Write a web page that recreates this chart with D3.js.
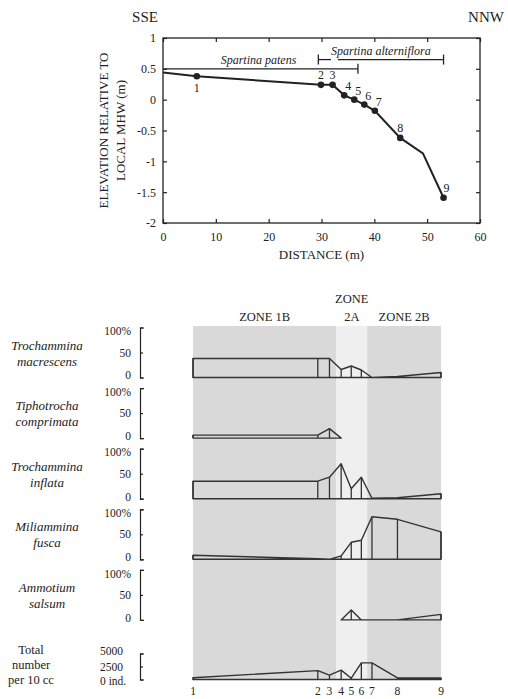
<!DOCTYPE html>
<html lang="en">
<head>
    <meta charset="UTF-8">
    <title>Marsh transect and foraminifera</title>
    <script src="https://d3js.org/d3.v7.min.js"></script>
    <style>
        body { margin: 0; background: #fff; }
        text { font-family: "Liberation Serif", "Times New Roman", serif; fill: #222; }
    </style>
</head>
<body>
    <svg id="chart" width="508" height="699"></svg>
    <script>
        // ---- data ----
        // elevation profile (line goes through the start point and a kink between 8 and 9)
        const profileDist = [0, 6.4, 29.9, 32.1, 34.3, 36.2, 38.1, 40.1, 44.9, 49.2, 53.1];
        const profileElev = [0.44, 0.38, 0.24, 0.24, 0.07, 0.0, -0.08, -0.18, -0.62, -0.87, -1.59];

        // sampling stations
        const sampleIds = [1, 2, 3, 4, 5, 6, 7, 8, 9];
        const sampleDist = [6.4, 29.9, 32.1, 34.3, 36.2, 38.1, 40.1, 44.9, 53.1];
        const sampleElev = [0.38, 0.24, 0.24, 0.07, 0.0, -0.08, -0.18, -0.62, -1.59];

        const xTicks = [0, 10, 20, 30, 40, 50, 60];
        const yTicks = [1, 0.5, 0, -0.5, -1, -1.5, -2];

        // vegetation ranges (distance, m) and the elevation they are drawn at
        const vegNames = ["Spartina patens", "Spartina alterniflora"];
        const vegLevel = [0.5, 0.65];
        const vegSegments = [
            [[0, 36.9]],
            [[29.4, 31.8], [33.1, 53.1]]
        ];

        // zones along the transect (distance, m)
        const zoneNames = ["ZONE 1B", "ZONE 2A", "ZONE 2B"];
        const zoneEdges = [6.4, 33.4, 39.2, 53.1];

        // species abundance (%) at stations 1..9, null = not drawn
        const speciesNames = [
            ["Trochammina", "macrescens"],
            ["Tiphotrocha", "comprimata"],
            ["Trochammina", "inflata"],
            ["Miliammina", "fusca"],
            ["Ammotium", "salsum"]
        ];
        const macrescens = [38, 38, 38, 16, 23, 15, 0, 2, 10];
        const comprimata = [6, 6, 19, 0, null, null, null, null, null];
        const inflata = [35, 35, 43, 70, 20, 43, 1, 2, 10];
        const fusca = [8, 1, 0, 7, 34, 38, 85, 80, 55];
        const salsum = [null, null, null, 0, 20, 0, 0, 0, 11];
        const speciesValues = [macrescens, comprimata, inflata, fusca, salsum];

        // total number per 10 cc
        const totalCount = [350, 1700, 850, 1800, 250, 3200, 3200, 300, 300];
        const totalTicks = [0, 2500, 5000];
        const pctTicks = [0, 50, 100];

        const svg = d3.select("#chart");
        const ink = "#222";

        // ---------------- top: elevation profile ----------------
        const x = d3.scaleLinear().domain([0, 60]).range([163, 480]);
        const y = d3.scaleLinear().domain([-2, 1]).range([223, 38]);

        svg.append("rect")
            .attr("x", x(0)).attr("y", y(1))
            .attr("width", x(60) - x(0)).attr("height", y(-2) - y(1))
            .attr("fill", "none").attr("stroke", ink).attr("stroke-width", 1.3);

        function styleAxis(g) {
            g.select(".domain").remove();
            g.selectAll("line").attr("stroke", ink).attr("stroke-width", 1.2);
            g.selectAll("text").style("font-size", "12px").style("fill", ink);
            g.attr("font-family", null);
        }

        svg.append("g").attr("transform", `translate(${x(0)},0)`)
            .call(d3.axisLeft(y).tickValues(yTicks).tickSize(-4).tickPadding(7).tickFormat(d => String(d)))
            .call(styleAxis);
        svg.append("g").attr("transform", `translate(0,${y(-2)})`)
            .call(d3.axisBottom(x).tickValues(xTicks).tickSize(-4).tickPadding(9).tickFormat(d => String(d)))
            .call(styleAxis);
        svg.append("g").attr("transform", `translate(0,${y(1)})`)
            .call(d3.axisTop(x).tickValues(xTicks).tickSize(-4).tickFormat(""))
            .call(styleAxis);
        svg.append("g").attr("transform", `translate(${x(60)},0)`)
            .call(d3.axisRight(y).tickValues(yTicks).tickSize(-4).tickFormat(""))
            .call(styleAxis);

        // vegetation bars
        vegNames.forEach((name, i) => {
            const segs = vegSegments[i];
            const yy = y(vegLevel[i]);
            segs.forEach(s => {
                svg.append("line")
                    .attr("x1", x(s[0])).attr("x2", x(s[1]))
                    .attr("y1", yy).attr("y2", yy)
                    .attr("stroke", ink).attr("stroke-width", 1.3);
            });
            const lo = segs[0][0], hi = segs[segs.length - 1][1];
            [lo, hi].forEach(v => {
                if (v === 0) return;
                svg.append("line")
                    .attr("x1", x(v)).attr("x2", x(v))
                    .attr("y1", yy - 5).attr("y2", yy + 5)
                    .attr("stroke", ink).attr("stroke-width", 1.3);
            });
            const mid = (x(lo) + x(hi)) / 2 + (i === 0 ? -2 : 0);
            svg.append("text")
                .attr("x", mid).attr("y", yy - 5)
                .attr("text-anchor", "middle")
                .style("font-size", "12px").style("font-style", "italic")
                .text(name);
        });

        // profile line and stations
        const profile = profileDist.map((d, i) => [d, profileElev[i]]);
        svg.append("path")
            .datum(profile)
            .attr("d", d3.line().x(d => x(d[0])).y(d => y(d[1])))
            .attr("fill", "none").attr("stroke", ink).attr("stroke-width", 2);

        svg.selectAll(".stn")
            .data(sampleIds)
            .enter().append("circle")
            .attr("cx", (d, i) => x(sampleDist[i]))
            .attr("cy", (d, i) => y(sampleElev[i]))
            .attr("r", 3.3).attr("fill", ink);

        svg.selectAll(".stnlab")
            .data(sampleIds)
            .enter().append("text")
            .attr("x", (d, i) => x(sampleDist[i]) + (i >= 3 && i <= 6 ? 4 : (i === 8 ? 3 : 0)))
            .attr("y", (d, i) => y(sampleElev[i]) + (i === 0 ? 16 : (i >= 3 && i <= 6 ? -5 : -6)))
            .attr("text-anchor", "middle")
            .style("font-size", "12px")
            .text(d => d);

        svg.append("text").attr("x", 145).attr("y", 22).attr("text-anchor", "middle")
            .style("font-size", "15px").text("SSE");
        svg.append("text").attr("x", 486).attr("y", 22).attr("text-anchor", "middle")
            .style("font-size", "15px").text("NNW");

        const yMid = (y(1) + y(-2)) / 2;
        [["ELEVATION RELATIVE TO", 108], ["LOCAL MHW (m)", 125]].forEach(t => {
            svg.append("text")
                .attr("transform", `translate(${t[1]},${yMid}) rotate(-90)`)
                .attr("text-anchor", "middle")
                .style("font-size", "13px")
                .text(t[0]);
        });
        svg.append("text").attr("x", (x(0) + x(60)) / 2).attr("y", 259)
            .attr("text-anchor", "middle").style("font-size", "13px").text("DISTANCE (m)");

        // ---------------- bottom: foraminifera ----------------
        const x2 = d3.scaleLinear().domain(d3.extent(sampleDist)).range([193, 441]);
        const shadeTop = 326, shadeBottom = 680;

        zoneNames.forEach((name, i) => {
            const a = x2(zoneEdges[i]), b = x2(zoneEdges[i + 1]);
            svg.append("rect")
                .attr("x", a).attr("y", shadeTop)
                .attr("width", b - a).attr("height", shadeBottom - shadeTop)
                .attr("fill", i === 1 ? "#efefef" : "#d9d9d9");
            const mid = (a + b) / 2;
            const lines = (b - a) < 60 ? name.split(" ") : [name];
            lines.forEach((ln, j) => {
                svg.append("text")
                    .attr("x", mid).attr("y", 321 - (lines.length - 1 - j) * 18)
                    .attr("text-anchor", "middle")
                    .style("font-size", "12.5px")
                    .text(ln);
            });
        });

        function drawPanel(values, base, yS, ticks, fmt) {
            const pts = values.map((v, i) => ({ d: sampleDist[i], v: v }));
            const area = d3.area()
                .defined(p => p.v != null)
                .x(p => x2(p.d))
                .y0(base)
                .y1(p => yS(p.v));
            svg.append("path")
                .datum(pts)
                .attr("d", area)
                .attr("fill", "none")
                .attr("stroke", "#333").attr("stroke-width", 1.4)
                .attr("stroke-linejoin", "round");
            svg.append("g").selectAll("line")
                .data(pts.filter(p => p.v != null && p.v > 0))
                .enter().append("line")
                .attr("x1", p => x2(p.d)).attr("x2", p => x2(p.d))
                .attr("y1", base).attr("y2", p => yS(p.v))
                .attr("stroke", "#333").attr("stroke-width", 1.3);

            const ax = svg.append("g").attr("transform", "translate(140,0)")
                .call(d3.axisLeft(yS).tickValues(ticks).tickSizeInner(-3).tickSizeOuter(-4)
                    .tickPadding(9).tickFormat(fmt));
            ax.attr("font-family", null);
            ax.select(".domain").attr("stroke", ink).attr("stroke-width", 1.2);
            ax.selectAll("line").attr("stroke", ink).attr("stroke-width", 1.2);
            ax.selectAll("text").style("font-size", "11.5px").style("fill", ink);
            return ax;
        }

        speciesValues.forEach((vals, i) => {
            const base = 377.5 + i * 60.6;
            const yS = d3.scaleLinear().domain([0, 100]).range([base, base - 50]);
            const ax = drawPanel(vals, base, yS, pctTicks, d => d === 100 ? "100%" : String(d));
            // nudge the end labels inward so neighbouring panels do not collide
            ax.selectAll(".tick text").attr("dy", d => d === 100 ? "0.62em" : (d === 0 ? "0.12em" : "0.32em"));
            speciesNames[i].forEach((ln, j) => {
                svg.append("text")
                    .attr("x", 47).attr("y", base - 28 + j * 16)
                    .attr("text-anchor", "middle")
                    .style("font-size", "13px").style("font-style", "italic")
                    .text(ln);
            });
        });

        const totBase = 679.5;
        const yT = d3.scaleLinear().domain([0, 5000]).range([totBase, totBase - 26]);
        const totAx = drawPanel(totalCount, totBase, yT, totalTicks, d => d === 0 ? "0 ind." : String(d));
        totAx.selectAll(".tick text").attr("text-anchor", "start").attr("x", -40)
            .attr("dy", d => d === 5000 ? "0.1em" : (d === 0 ? "0.45em" : "0.32em"));
        ["Total", "number", "per 10 cc"].forEach((ln, j) => {
            svg.append("text")
                .attr("x", 31).attr("y", 654 + j * 15)
                .attr("text-anchor", "middle")
                .style("font-size", "12.5px")
                .text(ln);
        });

        // station numbers under the panels
        svg.selectAll(".stnbottom")
            .data(sampleIds)
            .enter().append("text")
            .attr("x", (d, i) => x2(sampleDist[i]))
            .attr("y", 695)
            .attr("text-anchor", "middle")
            .style("font-size", "11.5px")
            .text(d => d);
    </script>
</body>
</html>
